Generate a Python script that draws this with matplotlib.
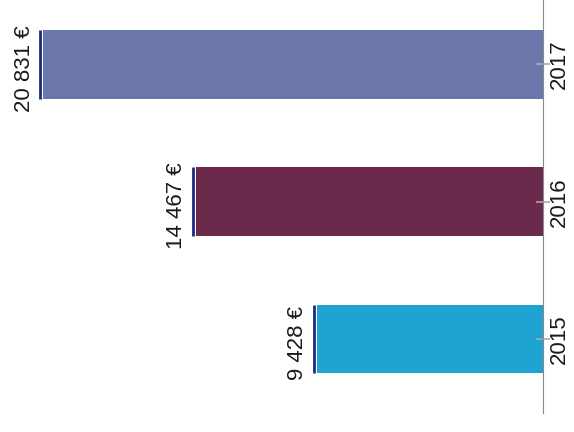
import matplotlib.pyplot as plt
from matplotlib.transforms import ScaledTranslation

years = ['2015', '2016', '2017']
values = [9428, 14467, 20831]
labels = ['9 428 €', '14 467 €', '20 831 €']
colors = ['#1fa3d3', '#6b2a4c', '#6b77ab']

plt.rcParams['font.family'] = ['Liberation Sans', 'DejaVu Sans']

fig = plt.figure(figsize=(5.74, 4.32), dpi=100)
ax = fig.add_axes([0.0, 0.044, 0.946, 0.956])

pos = list(range(len(years)))
ax.barh(pos, values, height=0.5, color=colors, edgecolor='none')

# thin dark line at the end of each bar, plus the rotated value label
shift = ScaledTranslation(-3 / 100, 0, fig.dpi_scale_trans)
for p, v, lab in zip(pos, values, labels):
    ax.plot([v, v], [p - 0.25, p + 0.25], color='#1c2c80', lw=2,
            solid_capstyle='butt', transform=ax.transData + shift)
    ax.annotate(lab, (v, p - 0.03), xytext=(-6, 0), textcoords='offset points',
                rotation=90, ha='right', va='center', fontsize=16, color='#1a1a1a')

ax.set_xlim(22620, 0)
ax.set_ylim(-0.54, 2.47)

ax.yaxis.tick_right()
ax.set_yticks(pos)
ax.set_yticklabels(years, rotation=90, va='center', fontsize=16, color='#1a1a1a')
# nudge the year labels a little below the tick, as in the original
down = ScaledTranslation(0, -4 / 100, fig.dpi_scale_trans)
for t in ax.get_yticklabels():
    t.set_transform(t.get_transform() + down)
ax.tick_params(axis='y', direction='inout', length=10, width=1.2, color='#aaaaaa', pad=-1)
ax.set_xticks([])

for name in ['left', 'top', 'bottom']:
    ax.spines[name].set_visible(False)
ax.spines['right'].set_color('#888888')
ax.spines['right'].set_linewidth(0.8)

plt.savefig('out.png', dpi=100)
